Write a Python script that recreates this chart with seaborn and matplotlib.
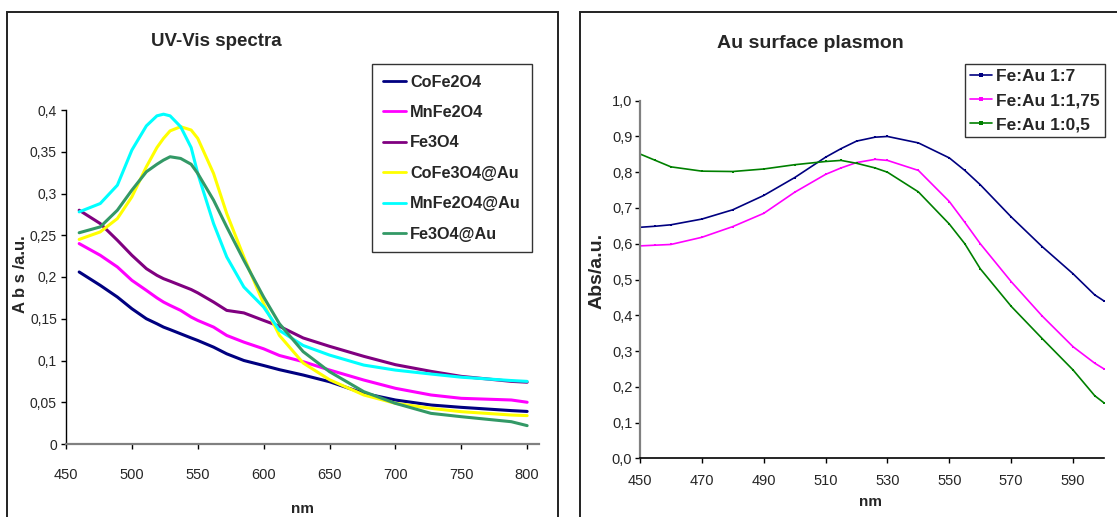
import matplotlib
matplotlib.use("Agg")
import matplotlib.pyplot as plt
from matplotlib.patches import Rectangle
import numpy as np
import pandas as pd
import seaborn as sns

# ---------------- data: left panel (UV-Vis spectra) ----------------
nm_left = [460, 476, 489, 500, 511, 519, 524, 529, 537, 545, 550, 562, 572, 585, 600, 612,
           630, 650, 676, 700, 727, 750, 788, 800]
cofe2o4 = [0.206, 0.19, 0.176, 0.162, 0.15, 0.144, 0.14, 0.137, 0.132, 0.127, 0.124, 0.116,
           0.108, 0.1, 0.094, 0.089, 0.0826, 0.0746, 0.0607, 0.0527, 0.0467, 0.0439, 0.040, 0.039]
mnfe2o4 = [0.24, 0.226, 0.212, 0.196, 0.184, 0.175, 0.17, 0.166, 0.16, 0.152, 0.148, 0.14,
           0.13, 0.122, 0.114, 0.106, 0.0986, 0.0886, 0.0766, 0.0667, 0.0587, 0.0547, 0.0527, 0.05]
fe3o4 = [0.28, 0.264, 0.244, 0.226, 0.21, 0.202, 0.198, 0.195, 0.19, 0.185, 0.181, 0.17,
         0.16, 0.157, 0.148, 0.141, 0.127, 0.117, 0.105, 0.095, 0.087, 0.081, 0.075, 0.074]
cofe3o4_au = [0.245, 0.254, 0.27, 0.296, 0.332, 0.355, 0.366, 0.375, 0.38, 0.376, 0.366, 0.324,
              0.276, 0.224, 0.168, 0.13, 0.097, 0.077, 0.0587, 0.0487, 0.0427, 0.0387, 0.0347, 0.034]
mnfe2o4_au = [0.278, 0.288, 0.31, 0.352, 0.381, 0.393, 0.395, 0.393, 0.38, 0.355, 0.324, 0.264,
              0.224, 0.188, 0.164, 0.136, 0.118, 0.1065, 0.0945, 0.0885, 0.0838, 0.080, 0.076, 0.075]
fe3o4_au = [0.253, 0.26, 0.28, 0.304, 0.326, 0.335, 0.34, 0.344, 0.342, 0.335, 0.324, 0.292,
            0.26, 0.22, 0.176, 0.144, 0.1106, 0.0866, 0.0627, 0.0487, 0.0367, 0.0327, 0.0267, 0.022]
left_names = ["CoFe2O4", "MnFe2O4", "Fe3O4", "CoFe3O4@Au", "MnFe2O4@Au", "Fe3O4@Au"]
left_colors = ["#000080", "#FF00FF", "#800080", "#FFFF00", "#00FFFF", "#339966"]
left_xticks = [450, 500, 550, 600, 650, 700, 750, 800]
left_yticks = [0, 0.05, 0.1, 0.15, 0.2, 0.25, 0.3, 0.35, 0.4]
left_yticklabels = ["0", "0,05", "0,1", "0,15", "0,2", "0,25", "0,3", "0,35", "0,4"]

# ---------------- data: right panel (Au surface plasmon) ----------------
nm_right = [450, 455, 460, 470, 480, 490, 500, 510, 515, 520, 526, 530, 540, 550, 555,
            560, 570, 580, 590, 597, 600]
fe_au_7 = [0.646, 0.649, 0.653, 0.669, 0.695, 0.735, 0.785, 0.842, 0.866, 0.887, 0.898, 0.9,
           0.882, 0.84, 0.805, 0.765, 0.675, 0.592, 0.516, 0.457, 0.44]
fe_au_175 = [0.594, 0.596, 0.598, 0.618, 0.648, 0.685, 0.744, 0.794, 0.812, 0.827, 0.836, 0.833,
             0.805, 0.718, 0.66, 0.6, 0.494, 0.398, 0.312, 0.266, 0.25]
fe_au_05 = [0.851, 0.833, 0.815, 0.803, 0.802, 0.809, 0.821, 0.83, 0.833, 0.825, 0.812, 0.8,
            0.745, 0.655, 0.6, 0.53, 0.425, 0.335, 0.247, 0.175, 0.155]
right_names = ["Fe:Au 1:7", "Fe:Au 1:1,75", "Fe:Au 1:0,5"]
right_colors = ["#000080", "#FF00FF", "#008000"]
right_xticks = [450, 470, 490, 510, 530, 550, 570, 590]
right_yticks = [0.0, 0.1, 0.2, 0.3, 0.4, 0.5, 0.6, 0.7, 0.8, 0.9, 1.0]
right_yticklabels = ["0,0", "0,1", "0,2", "0,3", "0,4", "0,5", "0,6", "0,7", "0,8", "0,9", "1,0"]

# ---------------- build tables ----------------
left_series = [cofe2o4, mnfe2o4, fe3o4, cofe3o4_au, mnfe2o4_au, fe3o4_au]
df_left = pd.concat([pd.DataFrame({"nm": nm_left, "abs": s, "sample": n})
                     for n, s in zip(left_names, left_series)], ignore_index=True)
right_series = [fe_au_7, fe_au_175, fe_au_05]
df_right = pd.concat([pd.DataFrame({"nm": nm_right, "abs": s, "sample": n})
                      for n, s in zip(right_names, right_series)], ignore_index=True)

sns.set_style("white")
plt.rcParams["font.family"] = ["Liberation Sans", "DejaVu Sans"]
FONT = ["Liberation Sans", "DejaVu Sans"]

W, H = 1117, 517
fig = plt.figure(figsize=(W / 100, H / 100), dpi=100)
fig.patch.set_facecolor("white")

def fx(px):
    return px / W

def fy(py):
    return 1 - py / H

# panel frames
fig.add_artist(Rectangle((fx(7), fy(540)), fx(558) - fx(7), fy(12) - fy(540),
                         transform=fig.transFigure, fill=False, lw=1.4, ec="#222222",
                         clip_on=False))
fig.add_artist(Rectangle((fx(580), fy(540)), fx(1140) - fx(580), fy(12) - fy(540),
                         transform=fig.transFigure, fill=False, lw=1.4, ec="#222222",
                         clip_on=False))

# ---------------- left axes ----------------
L0, L1, LT, LB = 66, 539, 110, 444
axL = fig.add_axes([fx(L0), fy(LB), fx(L1) - fx(L0), fy(LT) - fy(LB)])
sns.lineplot(data=df_left, x="nm", y="abs", hue="sample", hue_order=left_names,
             palette=left_colors, ax=axL, lw=2.2, sort=False, estimator=None)
axL.set_xlim(450, 809)
axL.set_ylim(0, 0.4)
axL.set_xticks(left_xticks)
axL.set_xticklabels([str(t) for t in left_xticks], family=FONT, fontsize=10.5)
axL.set_yticks(left_yticks)
axL.set_yticklabels(left_yticklabels, family=FONT, fontsize=10)
for s in ["top", "right"]:
    axL.spines[s].set_visible(False)
axL.spines["left"].set_color("black")
axL.spines["bottom"].set_color("#808080")
axL.spines["left"].set_linewidth(1.0)
axL.spines["bottom"].set_linewidth(1.6)
axL.tick_params(axis="both", direction="out", length=3.5, width=1, color="black",
                bottom=True, left=True)
axL.tick_params(axis="y", pad=3)
axL.tick_params(axis="x", pad=13.5)
axL.set_xlabel("nm", family=FONT, fontsize=11, fontweight="bold")
axL.xaxis.set_label_coords((302 - L0) / (L1 - L0), (LB - 509) / (LB - LT))
axL.xaxis.label.set_va("center")
axL.set_ylabel("A b s /a.u.", family=FONT, fontsize=12, fontweight="bold")
axL.yaxis.set_label_coords((21 - L0) / (L1 - L0), (LB - 274) / (LB - LT))
axL.yaxis.label.set_va("center")
fig.text(fx(216), fy(42), "UV-Vis spectra", family=FONT, fontsize=13.5, fontweight="bold",
         ha="center", va="center")
h, l = axL.get_legend_handles_labels()
legL = axL.legend(h, l, loc="upper left", bbox_to_anchor=(fx(372), fy(64)),
                  bbox_transform=fig.transFigure, frameon=True, fancybox=False,
                  edgecolor="black", prop={"family": FONT, "size": 11.7, "weight": "bold"},
                  handlelength=1.45, handletextpad=0.25, labelspacing=0.95,
                  borderpad=0.65, borderaxespad=0)
legL.get_frame().set_linewidth(1.0)
for ln in legL.get_lines():
    ln.set_linewidth(2.0)

# ---------------- right axes ----------------
R0, R1, RT, RB = 640, 1104, 100.7, 458.3
axR = fig.add_axes([fx(R0), fy(RB), fx(R1) - fx(R0), fy(RT) - fy(RB)])
sns.lineplot(data=df_right, x="nm", y="abs", hue="sample", hue_order=right_names,
             palette=right_colors, ax=axR, lw=1.2, sort=False, estimator=None,
             marker="s", markersize=1.6, markeredgewidth=0)
axR.set_xlim(450, 600)
axR.set_ylim(0, 1.0)
axR.set_xticks(right_xticks)
axR.set_xticklabels([str(t) for t in right_xticks], family=FONT, fontsize=10.5)
axR.set_yticks(right_yticks)
axR.set_yticklabels(right_yticklabels, family=FONT, fontsize=10.5)
for s in ["top", "right"]:
    axR.spines[s].set_visible(False)
axR.spines["left"].set_color("#808080")
axR.spines["bottom"].set_color("black")
axR.spines["left"].set_linewidth(1.6)
axR.spines["bottom"].set_linewidth(1.2)
axR.tick_params(axis="both", direction="out", length=3.5, width=1, color="black",
                bottom=True, left=True)
axR.tick_params(axis="y", pad=2)
axR.tick_params(axis="x", pad=8)
axR.set_xlabel("nm", family=FONT, fontsize=11, fontweight="bold")
axR.xaxis.set_label_coords((871 - R0) / (R1 - R0), (RB - 502) / (RB - RT))
axR.xaxis.label.set_va("center")
axR.set_ylabel("Abs/a.u.", family=FONT, fontsize=14, fontweight="bold")
axR.yaxis.set_label_coords((597 - R0) / (R1 - R0), (RB - 271) / (RB - RT))
axR.yaxis.label.set_va("center")
fig.text(fx(810), fy(43), "Au surface plasmon", family=FONT, fontsize=14,
         fontweight="bold", ha="center", va="center")
h, l = axR.get_legend_handles_labels()
legR = axR.legend(h, l, loc="upper left", bbox_to_anchor=(fx(965), fy(64)),
                  bbox_transform=fig.transFigure, frameon=True, fancybox=False,
                  edgecolor="black", prop={"family": FONT, "size": 12.5, "weight": "bold"},
                  handlelength=1.25, handletextpad=0.25, labelspacing=0.5,
                  borderpad=0.3, borderaxespad=0)
legR.get_frame().set_linewidth(1.0)
for ln in legR.get_lines():
    ln.set_markersize(2.5)

fig.savefig("out.png", dpi=100, facecolor="white")
